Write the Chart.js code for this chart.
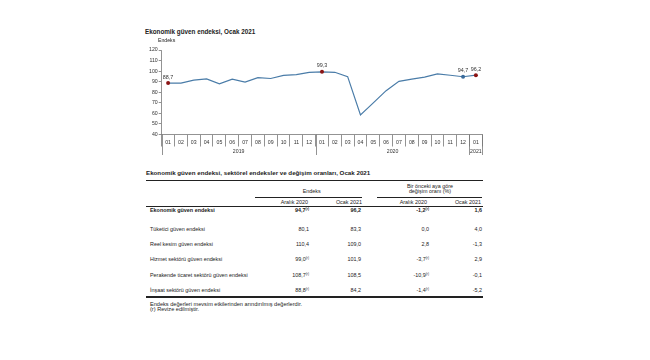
<!DOCTYPE html>
<html>
<head>
<meta charset="utf-8">
<script src="https://cdn.jsdelivr.net/npm/chart.js@4.4.1/dist/chart.umd.min.js"></script>
<style>
  body { margin: 0; background: #fff; width: 650px; height: 360px; position: relative; overflow: hidden;
         font-family: "Liberation Sans", Arial, sans-serif; color: #222; }
  .t { position: absolute; white-space: nowrap; }
  .ln { position: absolute; background: #222; }
  sup { font-size: 60%; vertical-align: top; position: relative; top: -1px; }
  #chartBox { position: absolute; left: 140px; top: 40px; width: 350px; height: 125px; }
</style>
</head>
<body>
<div id="chartBox"><canvas id="c"></canvas></div>
<script>
const FONT = '"Liberation Sans", Arial, sans-serif';

// chart data
const months = ["01","02","03","04","05","06","07","08","09","10","11","12",
                "01","02","03","04","05","06","07","08","09","10","11","12","01"];
const years = ["2019", "2020", "2021"];
const yearSpans = [12, 12, 1];
const confidence = [88.7, 88.7, 91.4, 92.6, 87.9, 92.4, 89.7, 93.9, 93.0, 95.9, 96.7, 98.9,
                    99.3, 98.9, 94.8, 58.5, 70.0, 81.5, 90.3, 92.5, 94.3, 97.3, 96.1, 94.7,
                    96.2];
const labelledPoints = [0, 12, 23, 24];

// table data
const rowNames = ["Ekonomik güven endeksi", "Tüketici güven endeksi", "Reel kesim güven endeksi",
                  "Hizmet sektörü güven endeksi", "Perakende ticaret sektörü güven endeksi",
                  "İnşaat sektörü güven endeksi"];
const indexDec2020 = [94.7, 80.1, 110.4, 99.0, 108.7, 88.8];
const indexJan2021 = [96.2, 83.3, 109.0, 101.9, 108.5, 84.2];
const changeDec2020 = [-1.2, 0.0, 2.8, -3.7, -10.9, -1.4];
const changeJan2021 = [1.6, 4.0, -1.3, 2.9, -0.1, -5.2];
const revised = [true, false, false, true, true, true];

const fmt = v => v.toFixed(1).replace(".", ",");

function text(str, x, y, opts = {}) {
  const size = opts.size || 5.4;
  const d = document.createElement("div");
  d.className = "t";
  d.innerHTML = str;
  d.style.fontSize = size + "px";
  d.style.lineHeight = size + "px";
  d.style.top = (y - size / 2) + "px";
  if (opts.bold) d.style.fontWeight = "bold";
  if (opts.align === "right") {
    d.style.right = (650 - x) + "px";
  } else if (opts.align === "center") {
    d.style.left = x + "px";
    d.style.transform = "translateX(-50%)";
  } else {
    d.style.left = x + "px";
  }
  document.body.appendChild(d);
}

function line(x1, x2, y, h) {
  const d = document.createElement("div");
  d.className = "ln";
  d.style.left = x1 + "px";
  d.style.width = (x2 - x1) + "px";
  d.style.top = y + "px";
  d.style.height = h + "px";
  document.body.appendChild(d);
}

// chart titles
text("Ekonomik güven endeksi, Ocak 2021", 145, 32.5, { size: 6.3, bold: true });
text("Endeks", 158, 41, { size: 5.2 });

const yearRow = {
  id: "yearRow",
  afterDraw: chart => {
    const ctx = chart.ctx;
    const xs = chart.scales.x;
    const half = (xs.getPixelForValue(1) - xs.getPixelForValue(0)) / 2;
    const top = xs.top;
    ctx.save();
    ctx.strokeStyle = "#777";
    ctx.lineWidth = 0.8;
    ctx.fillStyle = "#333";
    ctx.font = "5.2px " + FONT;
    ctx.textAlign = "center";
    ctx.textBaseline = "middle";
    let start = 0;
    const edges = [start];
    years.forEach((yr, k) => {
      const end = start + yearSpans[k];
      const left = xs.getPixelForValue(start) - half;
      const right = xs.getPixelForValue(end - 1) + half;
      ctx.fillText(yr, (left + right) / 2, top + 17);
      edges.push(end);
      start = end;
    });
    edges.forEach(e => {
      const x = Math.round(e === 0 ? xs.getPixelForValue(0) - half : xs.getPixelForValue(e - 1) + half) + 0.5;
      ctx.beginPath();
      ctx.moveTo(x, top);
      ctx.lineTo(x, top + 20.5);
      ctx.stroke();
    });
    ctx.restore();
  }
};

const pointLabels = {
  id: "pointLabels",
  afterDatasetsDraw: chart => {
    const ctx = chart.ctx;
    const meta = chart.getDatasetMeta(0);
    ctx.save();
    ctx.fillStyle = "#333";
    ctx.font = "5.4px " + FONT;
    ctx.textAlign = "center";
    ctx.textBaseline = "middle";
    labelledPoints.forEach(i => {
      const p = meta.data[i];
      ctx.fillText(fmt(confidence[i]), p.x, p.y - 6);
    });
    ctx.restore();
  }
};

const markerColor = confidence.map((v, i) =>
  labelledPoints.includes(i) ? (i === 23 ? "#3a6b9b" : "#8b1414") : "rgba(0,0,0,0)");

new Chart(document.getElementById("c"), {
  type: "line",
  plugins: [yearRow, pointLabels],
  data: {
    labels: months,
    datasets: [{
      data: confidence,
      borderColor: "#4a7ca8",
      borderWidth: 1.2,
      tension: 0,
      pointRadius: confidence.map((v, i) => labelledPoints.includes(i) ? 2 : 0),
      pointBackgroundColor: markerColor,
      pointBorderColor: markerColor,
      pointBorderWidth: 0
    }]
  },
  options: {
    animation: false,
    responsive: true,
    maintainAspectRatio: false,
    layout: { padding: { top: 10, right: 7.7, bottom: 10, left: 0 } },
    plugins: { legend: { display: false }, tooltip: { enabled: false } },
    scales: {
      x: {
        offset: true,
        grid: { offset: true, drawOnChartArea: false, tickLength: 12, color: "#777", lineWidth: 0.8 },
        border: { color: "#777", width: 0.8 },
        ticks: { autoSkip: false, maxRotation: 0, padding: -7, color: "#333", font: { size: 5.2, family: FONT } },
        afterFit: s => { s.height = 20.5; }
      },
      y: {
        min: 40,
        max: 120,
        grid: { drawOnChartArea: false, tickLength: 3, color: "#777", lineWidth: 0.8 },
        border: { color: "#777", width: 0.8 },
        ticks: { stepSize: 10, padding: 1, color: "#333", font: { size: 5.2, family: FONT } },
        afterFit: s => { s.width = 21.7; }
      }
    }
  }
});

// table
text("Ekonomik güven endeksi, sektörel endeksler ve değişim oranları, Ocak 2021", 146, 173.5, { size: 6.2, bold: true });
line(146, 483, 179.5, 1.5);
text("Endeks", 311.7, 192, { align: "center" });
text("Bir önceki aya göre", 430, 186.8, { align: "center" });
text("değişim oranı (%)", 430, 191.8, { align: "center" });
line(255, 362, 196.8, 0.6);
line(377, 482, 196.8, 0.6);
text("Aralık 2020", 308, 202.7, { align: "right" });
text("Ocak 2021", 362, 202.7, { align: "right" });
text("Aralık 2020", 427, 202.7, { align: "right" });
text("Ocak 2021", 481, 202.7, { align: "right" });
line(146, 483, 206, 0.6);

const rowY = [210.5, 229.3, 244.6, 259.9, 275.2, 290.5];
const sup = r => r ? "<sup>(r)</sup>" : "";
rowNames.forEach((name, i) => {
  const o = { bold: i === 0 };
  text(name, 150, rowY[i], o);
  text(fmt(indexDec2020[i]) + sup(revised[i]), 309, rowY[i], { ...o, align: "right" });
  text(fmt(indexJan2021[i]), 361, rowY[i], { ...o, align: "right" });
  text(fmt(changeDec2020[i]) + sup(revised[i]), 429, rowY[i], { ...o, align: "right" });
  text(fmt(changeJan2021[i]), 482, rowY[i], { ...o, align: "right" });
});
line(146, 483, 296, 1.5);
text("Endeks değerleri mevsim etkilerinden arındırılmış değerlerdir.", 150, 304.5, { size: 5.6 });
text("(r) Revize edilmiştir.", 150, 310, { size: 5.6 });
</script>
</body>
</html>
